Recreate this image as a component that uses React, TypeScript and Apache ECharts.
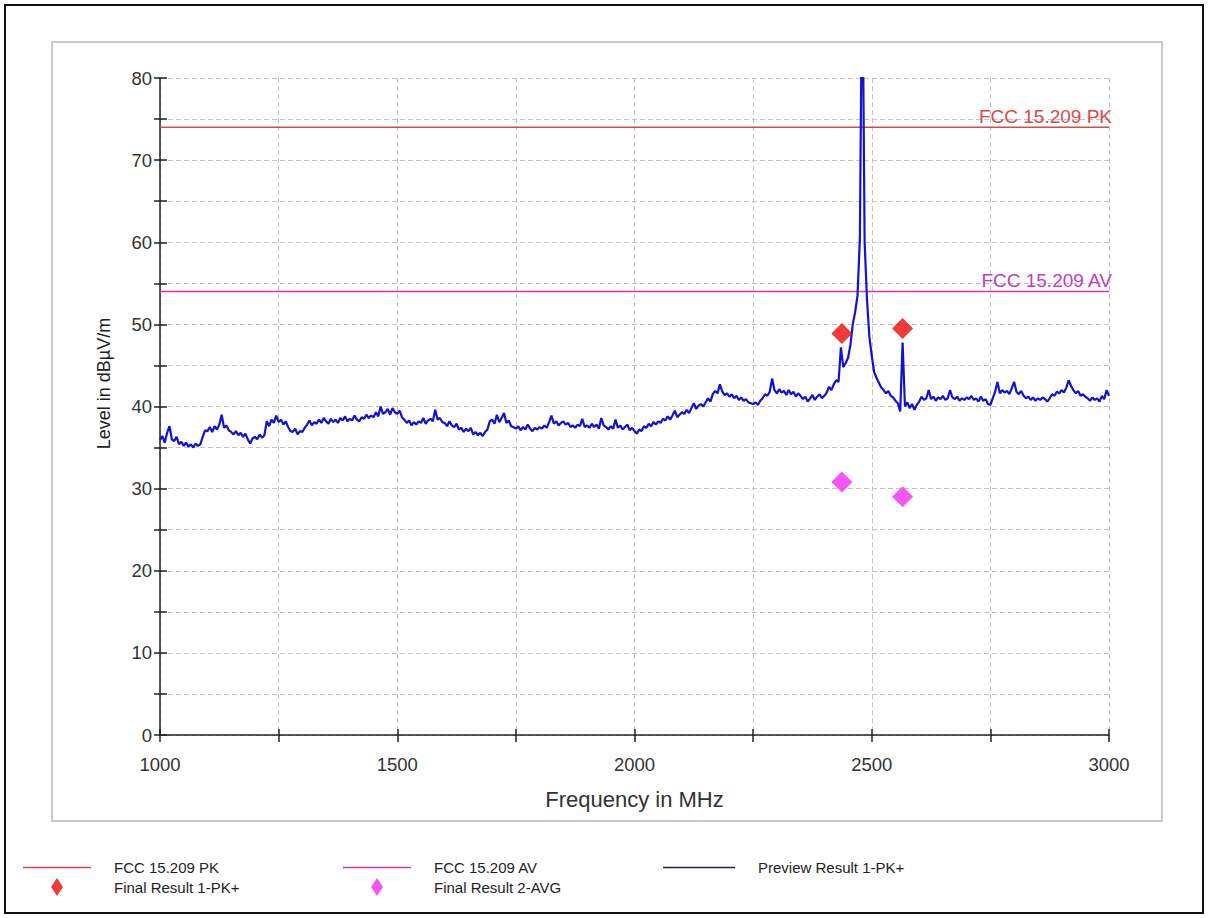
import React, { useEffect, useRef } from "react";
import * as echarts from "echarts";

// Preview sweep: level in dBµV/m, one reading every 5 MHz from 1000 MHz to 3000 MHz.
const SWEEP_START_MHZ = 1000;
const SWEEP_STEP_MHZ = 5;
const previewLevels: number[] = [
  /* 1000 */ 35.9, 36.4, 35.6, 36.8, 37.6, 36.0, 35.8, 36.3, 35.4, 35.7,
  /* 1050 */ 35.2, 35.6, 35.1, 35.4, 35.0, 35.5, 35.2, 35.4, 36.3, 37.1,
  /* 1100 */ 37.0, 37.5, 36.9, 37.6, 37.2, 37.8, 39.0, 37.4, 37.7, 37.1,
  /* 1150 */ 36.9, 36.6, 37.0, 36.5, 36.8, 36.3, 36.7, 36.0, 35.5, 36.1,
  /* 1200 */ 36.3, 36.0, 36.6, 36.2, 36.5, 38.2, 37.6, 38.4, 38.0, 38.9,
  /* 1250 */ 38.1, 38.4, 37.8, 38.2, 37.5, 37.0, 36.9, 37.3, 36.6, 37.0,
  /* 1300 */ 36.9, 37.4, 37.8, 38.3, 37.7, 38.1, 37.9, 38.4, 38.0, 38.6,
  /* 1350 */ 38.2, 37.9, 38.5, 38.1, 38.4, 38.0, 38.6, 38.3, 38.8, 38.2,
  /* 1400 */ 38.5, 38.3, 38.9, 38.4, 38.2, 38.7, 38.5, 39.0, 38.6, 38.9,
  /* 1450 */ 38.7, 39.3, 38.8, 40.0, 39.1, 39.3, 39.7, 39.0, 39.8, 39.3,
  /* 1500 */ 39.1, 39.5, 38.7, 38.4, 38.0, 38.3, 37.7, 38.1, 37.8, 38.2,
  /* 1550 */ 38.0, 38.6, 37.9, 38.3, 38.5, 38.2, 39.6, 38.4, 38.6, 38.1,
  /* 1600 */ 38.0, 37.6, 38.2, 37.7, 37.5, 37.9, 37.2, 37.4, 36.9, 37.3,
  /* 1650 */ 37.0, 37.4, 36.6, 36.9, 36.5, 36.8, 36.4, 36.9, 37.2, 38.2,
  /* 1700 */ 38.4, 37.9, 39.0, 38.1, 38.6, 39.2, 38.0, 38.3, 37.6, 37.5,
  /* 1750 */ 37.3, 37.6, 37.1, 37.5, 37.2, 37.8, 37.3, 37.0, 37.4, 37.2,
  /* 1800 */ 37.5, 37.3, 37.7, 37.4, 38.1, 38.9, 37.9, 38.2, 37.7, 38.0,
  /* 1850 */ 38.2, 37.8, 38.0, 37.5, 37.7, 37.4, 37.8, 37.6, 38.5, 37.5,
  /* 1900 */ 37.7, 37.4, 37.9, 37.5, 37.8, 37.3, 38.6, 37.7, 37.5, 37.2,
  /* 1950 */ 37.6, 37.3, 38.4, 37.4, 37.7, 37.2, 37.5, 37.8, 37.1, 37.4,
  /* 2000 */ 37.0, 36.7, 37.2, 37.0, 37.6, 37.4, 37.9, 37.6, 38.1, 37.8,
  /* 2050 */ 38.2, 38.0, 38.5, 38.3, 38.8, 38.4, 38.9, 39.5, 38.7, 39.0,
  /* 2100 */ 39.3, 39.1, 39.6, 39.2, 39.8, 40.4, 39.7, 40.1, 40.3, 40.0,
  /* 2150 */ 40.5, 41.0, 40.6, 41.5, 41.9, 41.6, 42.7, 41.8, 41.4, 41.6,
  /* 2200 */ 41.2, 41.5, 41.0, 41.3, 40.8, 41.1, 40.7, 40.9, 40.5, 40.4,
  /* 2250 */ 40.3, 40.5, 40.2, 40.7, 41.0, 41.5, 41.3, 41.8, 43.4, 42.0,
  /* 2300 */ 41.6, 42.1, 41.7, 41.9, 41.4, 42.0, 41.5, 41.8, 41.2, 41.6,
  /* 2350 */ 41.3, 40.9, 41.2, 40.6, 41.0, 41.4, 40.8, 41.2, 41.5, 41.0,
  /* 2400 */ 41.3, 41.7, 42.4, 42.0, 42.7, 43.2, 43.0, 47.2, 44.8, 45.3,
  /* 2450 */ 45.9, 47.5, 50.0, 51.5, 53.5, 60.5, 96.0, 60.0, 53.0, 48.5,
  /* 2500 */ 46.2, 44.2, 43.5, 42.9, 42.3, 42.0, 41.6, 41.9, 41.3, 41.1,
  /* 2550 */ 40.7, 40.4, 39.4, 47.8, 40.0, 40.5, 39.8, 40.3, 39.6, 40.2,
  /* 2600 */ 40.6, 41.2, 40.8, 41.0, 42.0, 40.9, 41.2, 40.7, 41.1, 40.9,
  /* 2650 */ 41.3, 40.8, 41.0, 42.0, 41.1, 40.9, 41.2, 40.7, 41.0, 40.8,
  /* 2700 */ 41.1, 40.9, 41.3, 40.8, 41.0, 40.6, 41.2, 40.7, 40.9, 40.3,
  /* 2750 */ 40.2, 41.0, 41.8, 43.0, 41.6, 42.0, 41.7, 41.9, 41.5, 42.2,
  /* 2800 */ 43.0, 41.8, 41.5, 41.9, 41.3, 41.0, 41.2, 40.8, 41.1, 40.7,
  /* 2850 */ 41.0, 40.8, 41.1, 40.9, 40.6, 41.0, 41.5, 41.3, 41.8, 41.6,
  /* 2900 */ 42.0, 41.7, 42.3, 43.2, 42.5, 42.0, 41.6, 41.9, 41.3, 41.5,
  /* 2950 */ 41.2, 41.0, 40.7, 41.1, 40.8, 41.0, 40.6, 41.3, 40.9, 42.0,
  /* 3000 */ 41.3,
];

// Limit lines (dBµV/m)
const FREQ_MIN = 1000;
const FREQ_MAX = 3000;
const limitPk = 74;
const limitAv = 54;

// Final measurements
const finalFreqs = [2437, 2565];
const finalPkLevels = [48.9, 49.5];
const finalAvgLevels = [30.8, 29.0];

// Labelled ticks
const xTickLabels = [1000, 1500, 2000, 2500, 3000];
const yTickLabels = [0, 10, 20, 30, 40, 50, 60, 70, 80];

const FONT = "'Liberation Sans', Arial, sans-serif";
const GRID_LEFT = 160;
const GRID_TOP = 78;
const GRID_W = 949;
const GRID_H = 657;

const PK_COLOR = "#d44c4c";
const AV_COLOR = "#c43cc4";
const TRACE_COLOR = "#1212cf";
const DIAMOND_ICON = "path://M6,0L12,9L6,18L0,9Z";
const LINE_ICON = "path://M0,0L68,0L68,1.6L0,1.6Z";
const LONG_LINE_ICON = "path://M0,0L72,0L72,1.6L0,1.6Z";

export default function App() {
  const ref = useRef<HTMLDivElement>(null);

  useEffect(() => {
    if (!ref.current) return;
    const chart = echarts.init(ref.current, null, { renderer: "svg" });

    const tracePoints = previewLevels.map((v, i) => [SWEEP_START_MHZ + i * SWEEP_STEP_MHZ, v]);
    const limitSeries = (name: string, level: number, color: string) => ({
      name,
      type: "line",
      xAxisIndex: 0,
      yAxisIndex: 0,
      symbol: "none",
      showSymbol: true,
      lineStyle: { color, width: 1.5 },
      itemStyle: { color },
      data: [
        [FREQ_MIN, level],
        {
          value: [FREQ_MAX, level],
          symbol: "circle",
          symbolSize: 0.1,
          label: {
            show: true,
            position: "top",
            align: "right",
            distance: 1,
            offset: [3, 0],
            formatter: name,
            color,
            fontSize: 19,
            fontFamily: FONT,
          },
        },
      ],
      z: 2,
    });

    const axisLineStyle = { color: "#222", width: 1.5 };
    const splitStyle = { color: "#c4c4c4", width: 1, type: [5, 3] };
    const legendText = { fontSize: 15, color: "#222", fontFamily: FONT, padding: [0, 0, 0, 18] };

    chart.setOption({
      animation: false,
      backgroundColor: "#ffffff",
      textStyle: { fontFamily: FONT },
      grid: { left: GRID_LEFT, top: GRID_TOP, width: GRID_W, height: GRID_H, containLabel: false },
      graphic: [
        {
          type: "rect",
          shape: { x: 5, y: 5, width: 1198, height: 908 },
          style: { fill: "none", stroke: "#111", lineWidth: 2 },
          silent: true,
          z: -10,
        },
        {
          type: "rect",
          shape: { x: 52, y: 42, width: 1110, height: 779 },
          style: { fill: "none", stroke: "#cacaca", lineWidth: 2 },
          silent: true,
          z: -10,
        },
      ],
      xAxis: [
        {
          type: "value",
          min: FREQ_MIN,
          max: FREQ_MAX,
          interval: 250,
          position: "bottom",
          axisLine: { show: true, onZero: false, lineStyle: axisLineStyle },
          axisTick: { show: true, length: 7, lineStyle: axisLineStyle },
          axisLabel: {
            formatter: (v: number) => (xTickLabels.includes(v) ? String(v) : ""),
            fontSize: 18.5,
            color: "#333",
            margin: 20,
            fontFamily: FONT,
            showMinLabel: true,
            showMaxLabel: true,
          },
          splitLine: { show: true, lineStyle: splitStyle },
          name: "Frequency in MHz",
          nameLocation: "middle",
          nameGap: 53,
          nameTextStyle: { fontSize: 22, color: "#333", fontFamily: FONT },
        },
        {
          // inner half of the crossing ticks
          type: "value",
          min: FREQ_MIN,
          max: FREQ_MAX,
          interval: 250,
          position: "top",
          offset: -GRID_H,
          axisLine: { show: false },
          axisTick: { show: true, length: 6, lineStyle: axisLineStyle },
          axisLabel: { show: false },
          splitLine: { show: false },
        },
      ],
      yAxis: [
        {
          type: "value",
          min: 0,
          max: 80,
          interval: 5,
          position: "left",
          axisLine: { show: true, onZero: false, lineStyle: axisLineStyle },
          axisTick: { show: true, length: 6, lineStyle: axisLineStyle },
          axisLabel: {
            formatter: (v: number) => (yTickLabels.includes(v) ? String(v) : ""),
            fontSize: 18.5,
            color: "#333",
            margin: 8,
            fontFamily: FONT,
          },
          splitLine: { show: true, lineStyle: splitStyle },
          name: "Level in dBµV/m",
          nameLocation: "middle",
          nameGap: 47,
          nameTextStyle: { fontSize: 18, color: "#222", fontFamily: FONT, padding: [0, 0, 0, 46] },
        },
        {
          // inner half of the crossing ticks
          type: "value",
          min: 0,
          max: 80,
          interval: 5,
          position: "right",
          offset: -GRID_W,
          axisLine: { show: false },
          axisTick: { show: true, length: 7, lineStyle: axisLineStyle },
          axisLabel: { show: false },
          splitLine: { show: false },
        },
      ],
      legend: [
        {
          orient: "vertical",
          left: 18,
          top: 855,
          itemWidth: 68,
          itemHeight: 18,
          itemGap: 3,
          selectedMode: false,
          textStyle: legendText,
          data: [
            { name: "FCC 15.209 PK", icon: LINE_ICON },
            { name: "Final Result 1-PK+", icon: DIAMOND_ICON },
          ],
        },
        {
          orient: "vertical",
          left: 338,
          top: 855,
          itemWidth: 68,
          itemHeight: 18,
          itemGap: 3,
          selectedMode: false,
          textStyle: legendText,
          data: [
            { name: "FCC 15.209 AV", icon: LINE_ICON },
            { name: "Final Result 2-AVG", icon: DIAMOND_ICON },
          ],
        },
        {
          orient: "vertical",
          left: 658,
          top: 855,
          itemWidth: 72,
          itemHeight: 18,
          itemGap: 3,
          selectedMode: false,
          textStyle: legendText,
          data: [
            { name: "Preview Result 1-PK+", icon: LONG_LINE_ICON, itemStyle: { color: "#1d1d6e" } },
          ],
        },
      ],
      series: [
        limitSeries("FCC 15.209 PK", limitPk, PK_COLOR),
        limitSeries("FCC 15.209 AV", limitAv, AV_COLOR),
        {
          name: "Preview Result 1-PK+",
          type: "line",
          xAxisIndex: 0,
          yAxisIndex: 0,
          symbol: "none",
          clip: true,
          lineStyle: { color: TRACE_COLOR, width: 2.2 },
          itemStyle: { color: TRACE_COLOR },
          data: tracePoints,
          z: 3,
        },
        {
          name: "Final Result 1-PK+",
          type: "scatter",
          xAxisIndex: 0,
          yAxisIndex: 0,
          symbol: "diamond",
          symbolSize: 21,
          itemStyle: { color: "#ee0a0a" },
          data: finalFreqs.map((f, i) => [f, finalPkLevels[i]]),
          z: 5,
        },
        {
          name: "Final Result 2-AVG",
          type: "scatter",
          xAxisIndex: 0,
          yAxisIndex: 0,
          symbol: "diamond",
          symbolSize: 21,
          itemStyle: { color: "#f52cf5" },
          data: finalFreqs.map((f, i) => [f, finalAvgLevels[i]]),
          z: 5,
        },
      ],
    });

    return () => chart.dispose();
  }, []);

  return (
    <div
      ref={ref}
      style={{ position: "fixed", left: 0, top: 0, width: 1211, height: 918, background: "#fff" }}
    />
  );
}
